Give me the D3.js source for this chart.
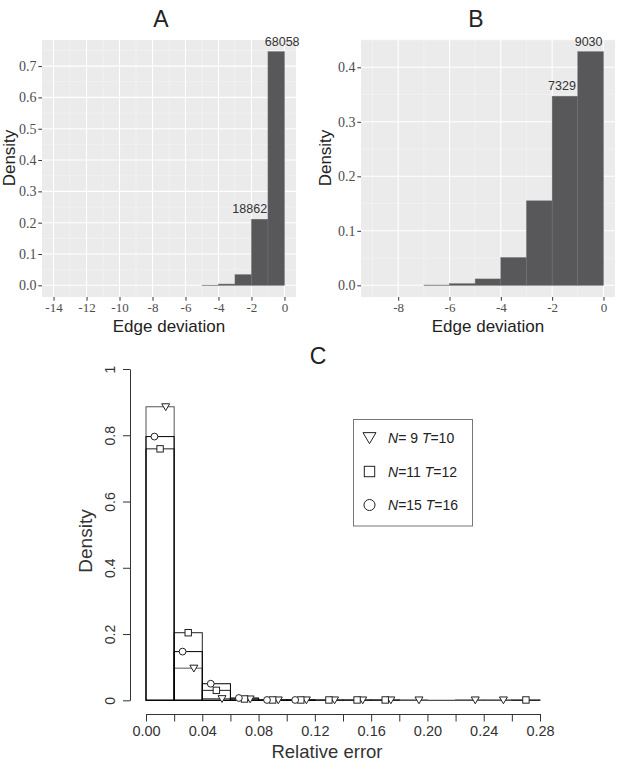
<!DOCTYPE html>
<html><head>
<meta charset="utf-8">
<script src="https://d3js.org/d3.v7.min.js"></script>
<style>
  body { margin: 0; background: white; }
</style>
</head>
<body>
<svg id="fig" width="626" height="763"></svg>
<script>
// ---- panel A : edge deviation histogram ----
const binsA = [-5, -4, -3, -2, -1];            // bin left edges
const densA = [0.0004, 0.004, 0.034, 0.211, 0.746];
const countLabelsA = ["", "", "", "18862", "68058"];
const xTicksA = [-14, -12, -10, -8, -6, -4, -2, 0];
const yTicksA = [0, 0.1, 0.2, 0.3, 0.4, 0.5, 0.6, 0.7];

// ---- panel B ----
const binsB = [-7, -6, -5, -4, -3, -2, -1];
const densB = [0.0005, 0.003, 0.0117, 0.051, 0.155, 0.347, 0.4287];
const countLabelsB = ["", "", "", "", "", "7329", "9030"];
const xTicksB = [-8, -6, -4, -2, 0];
const yTicksB = [0, 0.1, 0.2, 0.3, 0.4];

// ---- panel C : relative error, three settings ----
const binStartsC = [0, 0.02, 0.04, 0.06, 0.08, 0.10, 0.12, 0.14, 0.16, 0.18, 0.20, 0.22, 0.24, 0.26];
const densTri = [0.886, 0.097, 0.005, 0.004, 0.001, 0.001, 0.001, 0.001, 0.001, 0.001, 0, 0.001, 0.001, 0];
const densSq  = [0.759, 0.204, 0.030, 0.004, 0.001, 0.001, 0.001, 0.001, 0.001, 0, 0, 0, 0, 0.001];
const densCir = [0.796, 0.147, 0.050, 0.007, 0.001, 0.001, 0, 0, 0, 0, 0, 0, 0, 0];
const xTicksC = [0, 0.02, 0.04, 0.06, 0.08, 0.10, 0.12, 0.14, 0.16, 0.18, 0.20, 0.22, 0.24, 0.26, 0.28];
const yTicksC = [0, 0.2, 0.4, 0.6, 0.8, 1];
const legendC = [["9", "10"], ["11", "12"], ["15", "16"]];

const SANS = "'Liberation Sans', Arial, sans-serif";
const SERIF = "'Liberation Serif', 'DejaVu Serif', 'Times New Roman', serif";

const svg = d3.select("#fig");

// ggplot-like histogram panel
function ggPanel(opt) {
  const g = svg.append("g");
  const xr = opt.xData[1] - opt.xData[0];
  const x = d3.scaleLinear()
    .domain([opt.xData[0] - 0.05 * xr, opt.xData[1] + 0.05 * xr])
    .range([opt.left, opt.right]);
  const ymax = d3.max(opt.dens);
  const y = d3.scaleLinear()
    .domain([-0.05 * ymax, ymax * 1.05])
    .range([opt.bottom, opt.top]);

  g.append("rect")
    .attr("x", opt.left).attr("y", opt.top)
    .attr("width", opt.right - opt.left).attr("height", opt.bottom - opt.top)
    .attr("fill", "#ebebeb");

  // minor gridlines
  const xd = x.domain(), yd = y.domain();
  const xMinor = d3.range(opt.xTicks[0] - 1, opt.xTicks[opt.xTicks.length - 1] + 1.01, 2)
    .filter(v => v > xd[0] && v < xd[1]);
  const yMinor = d3.range(-0.05, ymax * 1.05 + 0.001, 0.1)
    .filter(v => v > yd[0] && v < yd[1]);
  xMinor.forEach(v => {
    g.append("line").attr("x1", x(v)).attr("x2", x(v))
      .attr("y1", opt.top).attr("y2", opt.bottom)
      .attr("stroke", "#f5f5f5").attr("stroke-width", 0.6);
  });
  yMinor.forEach(v => {
    g.append("line").attr("x1", opt.left).attr("x2", opt.right)
      .attr("y1", y(v)).attr("y2", y(v))
      .attr("stroke", "#f5f5f5").attr("stroke-width", 0.6);
  });
  // major gridlines
  opt.xTicks.forEach(v => {
    g.append("line").attr("x1", x(v)).attr("x2", x(v))
      .attr("y1", opt.top).attr("y2", opt.bottom)
      .attr("stroke", "white").attr("stroke-width", 1.1);
  });
  opt.yTicks.forEach(v => {
    g.append("line").attr("x1", opt.left).attr("x2", opt.right)
      .attr("y1", y(v)).attr("y2", y(v))
      .attr("stroke", "white").attr("stroke-width", 1.1);
  });

  // bars
  opt.bins.forEach((b, i) => {
    g.append("rect")
      .attr("x", x(b)).attr("y", y(opt.dens[i]))
      .attr("width", x(b + 1) - x(b))
      .attr("height", Math.max(0.3, y(0) - y(opt.dens[i])))
      .attr("fill", "#58585a")
      .attr("stroke", "#707070").attr("stroke-width", 0.5);
    if (opt.labels[i]) {
      g.append("text")
        .attr("x", x(b + 0.5) + (opt.labelShift[i] || 0))
        .attr("y", y(opt.dens[i]) - 6)
        .attr("text-anchor", "middle")
        .style("font-family", SANS)
        .attr("font-size", 12.5).attr("fill", "#333")
        .text(opt.labels[i]);
    }
  });

  // axes
  const xAxis = d3.axisBottom(x).tickValues(opt.xTicks).tickSize(3.7).tickSizeOuter(0);
  const gx = g.append("g")
    .attr("transform", "translate(0," + opt.bottom + ")").call(xAxis);
  const yAxis = d3.axisLeft(y).tickValues(opt.yTicks).tickSize(3.7).tickSizeOuter(0)
    .tickFormat(d3.format(".1f"));
  const gy = g.append("g")
    .attr("transform", "translate(" + opt.left + ",0)").call(yAxis);
  [gx, gy].forEach(a => {
    a.select(".domain").remove();
    a.selectAll("line").attr("stroke", "#333");
    a.selectAll("text").attr("fill", "#4d4d4d").style("font-family", SERIF);
  });
  gx.selectAll("text").attr("font-size", 13).attr("dy", "0.71em").attr("y", 6)
    .text(d => d < 0 ? "-" + (-d) : d);
  gy.selectAll("text").attr("font-size", 14).attr("x", -5.5);

  g.append("text").attr("x", (opt.left + opt.right) / 2).attr("y", 331.5)
    .attr("text-anchor", "middle").attr("font-size", 17).attr("fill", "#222")
    .style("font-family", SANS)
    .text("Edge deviation");
  g.append("text")
    .attr("transform", "translate(" + opt.yLabelX + ",158) rotate(-90)")
    .attr("text-anchor", "middle").attr("font-size", 17).attr("fill", "#222")
    .style("font-family", SANS)
    .text("Density");
  g.append("text").attr("x", opt.titleX).attr("y", 27)
    .attr("text-anchor", "middle").attr("font-size", 23).attr("fill", "#222")
    .style("font-family", SANS)
    .text(opt.title);
}

ggPanel({
  title: "A", titleX: 161, yLabelX: 15,
  left: 42, right: 296, top: 40, bottom: 297,
  xData: [-14, 0], bins: binsA, dens: densA, labels: countLabelsA,
  labelShift: [0, 0, 0, -10, 6],
  xTicks: xTicksA, yTicks: yTicksA
});
ggPanel({
  title: "B", titleX: 476, yLabelX: 331,
  left: 361, right: 615, top: 40, bottom: 297,
  xData: [-9, 0], bins: binsB, dens: densB, labels: countLabelsB,
  labelShift: [0, 0, 0, 0, 0, -3, -2],
  xTicks: xTicksB, yTicks: yTicksB
});

// ---- panel C (base-R style) ----
const gc = svg.append("g");
const xC = d3.scaleLinear().domain([0, 0.28]).range([146, 540]);
const yC = d3.scaleLinear().domain([0, 1]).range([700.3, 369]);
const bw = 0.02;

const series = [
  { dens: densTri, off: 0.014, shape: "tri", color: "#555" },
  { dens: densSq,  off: 0.010, shape: "sq",  color: "#222" },
  { dens: densCir, off: 0.006, shape: "cir", color: "#000" }
];

// baseline
gc.append("line").attr("x1", xC(0)).attr("x2", xC(0.28))
  .attr("y1", yC(0)).attr("y2", yC(0)).attr("stroke", "#222").attr("stroke-width", 1);

series.forEach(s => {
  binStartsC.forEach((b, i) => {
    if (s.dens[i] <= 0) return;
    gc.append("rect")
      .attr("x", xC(b)).attr("y", yC(s.dens[i]))
      .attr("width", xC(b + bw) - xC(b)).attr("height", yC(0) - yC(s.dens[i]))
      .attr("fill", "none").attr("stroke", s.color).attr("stroke-width", 1);
  });
});

function marker(g, shape, cx, cy, r, sw) {
  if (shape === "tri") {
    g.append("path")
      .attr("d", "M" + (cx - r) + "," + (cy - r * 0.75) + "L" + (cx + r) + "," + (cy - r * 0.75) +
        "L" + cx + "," + (cy + r * 0.95) + "Z")
      .attr("fill", "white").attr("stroke", "#222").attr("stroke-width", sw);
  } else if (shape === "sq") {
    g.append("rect").attr("x", cx - r * 0.8).attr("y", cy - r * 0.8)
      .attr("width", r * 1.6).attr("height", r * 1.6)
      .attr("fill", "white").attr("stroke", "#222").attr("stroke-width", sw);
  } else {
    g.append("circle").attr("cx", cx).attr("cy", cy).attr("r", r * 0.85)
      .attr("fill", "white").attr("stroke", "#222").attr("stroke-width", sw);
  }
}

series.forEach(s => {
  binStartsC.forEach((b, i) => {
    if (s.dens[i] <= 0) return;
    marker(gc, s.shape, xC(b + s.off), yC(s.dens[i]), 4, 1);
  });
});

// axes
const xAxisC = d3.axisBottom(xC).tickValues(xTicksC).tickSize(7.5).tickSizeOuter(0)
  .tickFormat((d, i) => i % 2 === 0 ? d3.format(".2f")(d) : "");
const gxc = gc.append("g").attr("transform", "translate(0,714)").call(xAxisC);
gxc.selectAll("text").attr("font-size", 14.5).attr("fill", "#333")
  .style("font-family", SANS).attr("y", 12);
const yAxisC = d3.axisLeft(yC).tickValues(yTicksC).tickSize(7).tickSizeOuter(0)
  .tickFormat(d => d3.format("")(d));
const gyc = gc.append("g").attr("transform", "translate(130,0)").call(yAxisC);
gyc.selectAll("text").attr("font-size", 14).attr("fill", "#333")
  .style("font-family", SANS)
  .attr("transform", "rotate(-90)").attr("x", 0).attr("y", -15).attr("dy", 0)
  .attr("text-anchor", "middle");
[gxc, gyc].forEach(a => {
  a.selectAll("line").attr("stroke", "#333");
  a.select(".domain").attr("stroke", "#333");
});

gc.append("text").attr("x", 327).attr("y", 758).attr("text-anchor", "middle")
  .style("font-family", SANS)
  .attr("font-size", 18.5).attr("fill", "#333").text("Relative error");
gc.append("text").attr("transform", "translate(92,541) rotate(-90)")
  .style("font-family", SANS)
  .attr("text-anchor", "middle").attr("font-size", 19).attr("fill", "#333").text("Density");
gc.append("text").attr("x", 318).attr("y", 364).attr("text-anchor", "middle")
  .style("font-family", SANS)
  .attr("font-size", 23).attr("fill", "#222").text("C");

// legend
gc.append("rect").attr("x", 353.5).attr("y", 419.5).attr("width", 119).attr("height", 106.5)
  .attr("fill", "white").attr("stroke", "#777").attr("stroke-width", 1);
const legY = [437.5, 471.5, 505];
series.forEach((s, i) => {
  marker(gc, s.shape, 369.5, legY[i], 6.5, 1);
  const t = gc.append("text").attr("x", 388).attr("y", legY[i] + 5)
    .style("font-family", SANS)
    .attr("font-size", 14).attr("fill", "#222");
  const nStr = legendC[i][0].length === 1 ? " " + legendC[i][0] : legendC[i][0];
  t.append("tspan").attr("font-style", "italic").text("N");
  t.append("tspan").text("=" + nStr + " ");
  t.append("tspan").attr("font-style", "italic").text("T");
  t.append("tspan").text("=" + legendC[i][1]);
});
</script>
</body></html>
